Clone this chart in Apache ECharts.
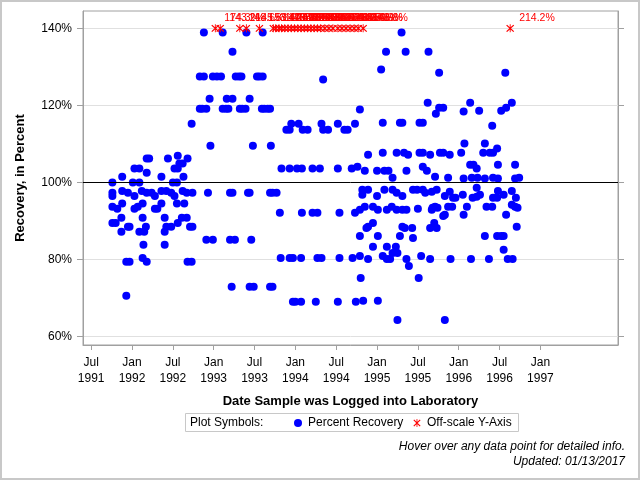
<!DOCTYPE html>
<html>
<head>
<meta charset="utf-8">
<title>Percent Recovery</title>
<script src="https://cdn.jsdelivr.net/npm/echarts@6/dist/echarts.min.js"></script>
<style>
  html, body { margin: 0; padding: 0; background: #fff; }
  #chart { width: 640px; height: 480px; }
</style>
</head>
<body>
<div id="chart"></div>
<script>
// [date as decimal year, recovery %]
const recovery1991_92 = [
  [1991.76, 100.0], [1991.76, 97.3], [1991.76, 96.5], [1991.76, 93.7], [1991.82, 93.2], [1991.76, 89.5], [1991.80, 89.5], [1991.87, 87.2], [1991.88, 101.5], [1991.88, 97.8],
  [1991.88, 94.5], [1991.87, 90.8], [1991.95, 97.3], [1991.95, 88.5], [1991.97, 88.5], [1991.93, 79.4], [1991.97, 79.4], [1991.93, 70.6], [1992.01, 100.0], [1992.03, 103.6],
  [1992.03, 96.5], [1992.03, 93.2], [1992.07, 93.7], [1992.09, 100.0], [1992.09, 103.6], [1992.12, 97.8], [1992.13, 94.5], [1992.13, 90.8], [1992.09, 87.2], [1992.15, 87.2],
  [1992.17, 88.5], [1992.14, 83.8], [1992.13, 80.4], [1992.18, 79.4], [1992.18, 102.5], [1992.18, 106.2], [1992.21, 106.2], [1992.18, 97.3], [1992.24, 97.3], [1992.28, 96.5],
  [1992.28, 93.2], [1992.31, 93.2], [1992.36, 94.5], [1992.36, 101.5], [1992.36, 97.8], [1992.40, 90.8], [1992.40, 87.2], [1992.40, 83.8], [1992.42, 88.5], [1992.42, 97.8],
  [1992.44, 106.2], [1992.48, 97.3], [1992.48, 88.5], [1992.50, 100.0], [1992.55, 100.0], [1992.52, 103.6], [1992.56, 103.6], [1992.56, 106.9], [1992.58, 104.9], [1992.62, 104.9],
  [1992.52, 96.5], [1992.55, 94.5], [1992.56, 89.5], [1992.61, 90.8], [1992.62, 97.8], [1992.63, 101.5], [1992.64, 94.5], [1992.67, 97.3], [1992.67, 90.8], [1992.68, 106.2],
  [1992.68, 79.4], [1992.73, 79.4], [1992.71, 88.5], [1992.74, 88.5], [1992.74, 97.3], [1992.73, 115.2]
];
const recovery1993 = [
  [1992.88, 138.9], [1993.11, 138.9], [1993.40, 138.9], [1993.60, 138.9], [1993.23, 133.9],
  [1992.83, 127.5], [1992.88, 127.5], [1992.99, 127.5], [1993.04, 127.5], [1993.09, 127.5], [1993.27, 127.5],
  [1993.31, 127.5], [1993.34, 127.5], [1993.53, 127.5], [1993.56, 127.5], [1993.60, 127.5],
  [1992.95, 121.7], [1993.16, 121.7], [1993.23, 121.7], [1993.44, 121.7],
  [1992.83, 119.1], [1992.86, 119.1], [1992.91, 119.1], [1993.11, 119.1], [1993.15, 119.1], [1993.18, 119.1], [1993.32, 119.1],
  [1993.35, 119.1], [1993.39, 119.1], [1993.59, 119.1], [1993.62, 119.1], [1993.66, 119.1], [1993.69, 119.1],
  [1992.96, 109.5], [1993.48, 109.5], [1993.70, 109.5],
  [1992.93, 97.3], [1993.20, 97.3], [1993.23, 97.3], [1993.42, 97.3], [1993.44, 97.3], [1993.69, 97.3], [1993.72, 97.3], [1993.77, 97.3],
  [1992.91, 85.1], [1992.99, 85.1], [1993.20, 85.1], [1993.26, 85.1], [1993.46, 85.1],
  [1993.22, 72.9], [1993.44, 72.9], [1993.49, 72.9], [1993.69, 72.9], [1993.72, 72.9]
];
const recovery1994 = [
  [1993.95, 115.2], [1994.04, 115.2], [1994.32, 115.2], [1994.52, 115.2], [1994.73, 115.2],
  [1993.89, 113.7], [1993.93, 113.7], [1994.09, 113.7], [1994.15, 113.7], [1994.34, 113.7], [1994.40, 113.7], [1994.60, 113.7], [1994.64, 113.7],
  [1994.34, 126.7], [1994.79, 118.9],
  [1993.83, 103.6], [1993.93, 103.6], [1994.02, 103.6], [1994.08, 103.6], [1994.21, 103.6], [1994.30, 103.6], [1994.52, 103.6], [1994.69, 103.6],
  [1993.81, 92.1], [1994.08, 92.1], [1994.21, 92.1], [1994.27, 92.1], [1994.54, 92.1], [1994.73, 92.1],
  [1993.82, 80.4], [1993.93, 80.4], [1993.97, 80.4], [1994.07, 80.4], [1994.27, 80.4], [1994.32, 80.4], [1994.54, 80.4], [1994.70, 80.4],
  [1993.97, 69.0], [1994.00, 69.0], [1994.07, 69.0], [1994.25, 69.0], [1994.52, 69.0], [1994.74, 69.0], [1994.83, 69.3], [1995.01, 69.3]
];
const recovery1995_96 = [
  [1994.76, 104.1], [1994.85, 103.0], [1995.00, 103.0], [1995.09, 103.0], [1995.14, 103.0], [1995.19, 101.2], [1995.36, 103.0], [1995.56, 104.1],
  [1995.61, 103.0], [1995.71, 101.5], [1995.87, 101.2], [1996.06, 101.0], [1996.16, 101.2], [1996.23, 101.2], [1996.32, 101.0], [1996.42, 101.2],
  [1996.48, 101.0], [1996.69, 101.0], [1996.74, 101.2],
  [1996.14, 104.6], [1996.18, 104.6], [1996.22, 103.6], [1996.48, 104.6], [1996.69, 104.6], [1996.41, 114.7],
  [1994.89, 107.2], [1995.07, 107.7], [1995.24, 107.7], [1995.33, 107.7], [1995.38, 107.2], [1995.52, 107.7], [1995.56, 107.7], [1995.65, 107.2],
  [1995.77, 107.7], [1995.81, 107.7], [1995.89, 107.2], [1996.03, 107.7], [1996.07, 110.1], [1996.32, 110.1], [1996.30, 107.7], [1996.38, 107.7],
  [1996.42, 107.7], [1996.47, 108.8],
  [1994.82, 98.1], [1994.89, 98.1], [1994.82, 96.8], [1995.00, 96.5], [1995.09, 98.1], [1995.19, 98.1], [1995.24, 97.3], [1995.31, 96.5],
  [1995.44, 98.1], [1995.49, 98.1], [1995.56, 98.1], [1995.59, 97.3], [1995.67, 97.6], [1995.73, 98.1], [1995.83, 96.5], [1995.89, 97.6],
  [1995.93, 96.0], [1995.96, 96.0], [1996.05, 96.8], [1996.17, 96.0], [1996.22, 96.3], [1996.22, 98.6], [1996.26, 96.8], [1996.42, 96.0],
  [1996.47, 96.0], [1996.48, 97.8], [1996.55, 96.8], [1996.65, 97.8], [1996.70, 96.0],
  [1994.79, 92.9], [1994.85, 93.7], [1994.95, 93.7], [1995.01, 92.9], [1995.12, 92.9], [1995.18, 93.7], [1995.24, 92.9], [1995.31, 92.9],
  [1995.36, 92.9], [1995.50, 93.2], [1995.67, 92.9], [1995.71, 93.7], [1995.81, 91.3], [1995.87, 93.7], [1995.68, 93.4], [1995.74, 93.4],
  [1995.92, 93.7], [1996.10, 93.7], [1996.34, 93.7], [1996.41, 93.7], [1996.65, 94.2], [1996.69, 93.7], [1996.72, 93.4], [1995.83, 91.6],
  [1996.06, 91.6], [1996.58, 91.6],
  [1994.89, 88.5], [1994.95, 89.5], [1994.87, 88.2], [1995.31, 88.5], [1995.34, 88.2], [1995.43, 88.2], [1995.65, 88.2], [1995.70, 89.5],
  [1995.73, 88.2], [1996.71, 88.5],
  [1994.79, 86.1], [1995.01, 86.1], [1995.28, 86.1], [1995.44, 85.6], [1996.32, 86.1], [1996.47, 86.1], [1996.52, 86.1], [1996.55, 86.1],
  [1996.55, 82.5], [1994.95, 83.3], [1995.12, 83.3], [1995.23, 83.3],
  [1994.79, 80.9], [1994.89, 80.1], [1995.07, 80.9], [1995.12, 80.1], [1995.16, 80.1], [1995.19, 81.7], [1995.25, 81.7], [1995.36, 80.1],
  [1995.39, 78.3], [1995.54, 80.9], [1995.65, 80.1], [1995.90, 80.1], [1996.15, 80.1], [1996.37, 80.1], [1996.60, 80.1], [1996.66, 80.1],
  [1994.80, 75.2], [1995.51, 75.2], [1995.25, 64.3], [1995.83, 64.3],
  [1995.05, 129.3], [1995.11, 133.9], [1995.30, 138.9], [1995.35, 133.9], [1995.63, 133.9], [1995.76, 128.5], [1996.57, 128.5],
  [1995.07, 115.5], [1995.28, 115.5], [1995.31, 115.5], [1995.52, 115.5], [1995.56, 115.5],
  [1995.62, 120.7], [1995.76, 119.4], [1995.81, 119.4], [1995.72, 117.8], [1996.06, 118.4], [1996.14, 120.7], [1996.25, 118.6],
  [1996.52, 118.6], [1996.58, 119.4], [1996.65, 120.7]
];
// values above the axis range: drawn at the cap, labelled with the real value
const offScale = [
  [1993.02, 174.3], [1993.08, 143.2], [1993.32, 148.6], [1993.40, 145.8], [1993.56, 153.4], [1993.73, 147.1], [1993.76, 162.5], [1993.80, 149.9],
  [1993.83, 144.6], [1993.87, 158.3], [1993.91, 151.2], [1993.95, 146.7], [1993.99, 170.4], [1994.03, 142.8], [1994.07, 155.6], [1994.11, 149.3],
  [1994.15, 161.9], [1994.19, 147.5], [1994.23, 143.9], [1994.27, 152.7], [1994.31, 166.1], [1994.36, 148.2], [1994.41, 144.4], [1994.46, 157.8],
  [1994.52, 150.5], [1994.57, 146.3], [1994.62, 163.7], [1994.67, 149.6], [1994.72, 145.1], [1994.77, 154.9], [1994.83, 148.8], [1996.63, 214.2]
];
const yCap = 140;
const xTicks = [1991.5, 1992, 1992.5, 1993, 1993.5, 1994, 1994.5, 1995, 1995.5, 1996, 1996.5, 1997];
const yTicks = [60, 80, 100, 120, 140];

const font = 'Liberation Sans, Arial, sans-serif';
const gray = '#a0a0a0';
const asterisk = 'path://M9,0H11V20H9Z M1,3L3,1L19,17L17,19Z M17,1L19,3L3,19L1,17Z';

const recovery = recovery1991_92.concat(recovery1993, recovery1994, recovery1995_96);

function dateLabel(v) {
  const yr = Math.floor(v + 1e-6);
  return (v - yr > 0.25 ? 'Jul' : 'Jan') + '\n' + yr;
}

const chart = echarts.init(document.getElementById('chart'));
chart.setOption({
  animation: false,
  backgroundColor: '#fff',
  textStyle: { fontFamily: font },
  grid: {
    left: 83, right: 22, top: 11, bottom: 135,
    show: true, borderColor: gray, borderWidth: 1,
    containLabel: false, outerBoundsMode: 'none'
  },
  xAxis: {
    type: 'value', min: 1991.4, max: 1997.95,
    axisLine: { show: true, onZero: false, lineStyle: { color: gray } },
    axisTick: { show: true, length: 5, customValues: xTicks, lineStyle: { color: gray } },
    axisLabel: { customValues: xTicks, formatter: dateLabel, color: '#000', fontSize: 12, lineHeight: 16, margin: 10 },
    splitLine: { show: false },
    name: 'Date Sample was Logged into Laboratory',
    nameLocation: 'middle', nameGap: 50, nameMoveOverlap: false,
    nameTextStyle: { fontWeight: 'bold', fontSize: 13, color: '#000' }
  },
  yAxis: [
    {
      type: 'value', min: 57.8, max: 144.5, position: 'left',
      axisLine: { show: true, lineStyle: { color: gray } },
      axisTick: { show: true, length: 6, customValues: yTicks, lineStyle: { color: gray } },
      axisLabel: { customValues: yTicks, formatter: '{value}%', color: '#000', fontSize: 12, margin: 11 },
      splitLine: { show: true, lineStyle: { color: '#e0e0e0' } },
      name: 'Recovery, in Percent',
      nameLocation: 'middle', nameGap: 56, nameMoveOverlap: false,
      nameTextStyle: { fontWeight: 'bold', fontSize: 13, color: '#000' }
    },
    {
      type: 'value', min: 57.8, max: 144.5, position: 'right',
      axisLine: { show: true, lineStyle: { color: gray } },
      axisTick: { show: true, length: 6, customValues: yTicks, lineStyle: { color: gray } },
      axisLabel: { show: false },
      splitLine: { show: false }
    }
  ],
  legend: {
    left: 289, top: 412,
    itemWidth: 10, itemHeight: 8, itemGap: 10,
    selectedMode: false,
    textStyle: { fontSize: 12, color: '#000' },
    data: [
      { name: 'Percent Recovery', icon: 'circle' },
      { name: 'Off-scale Y-Axis', icon: asterisk }
    ]
  },
  graphic: [
    { type: 'rect', silent: true, shape: { x: 1, y: 1, width: 638, height: 478 }, style: { fill: 'none', stroke: '#c8c8c8', lineWidth: 2 } },
    { type: 'rect', silent: true, shape: { x: 185.5, y: 413.5, width: 333, height: 18 }, style: { fill: 'none', stroke: '#c8c8c8', lineWidth: 1 } },
    { type: 'text', silent: true, x: 190, y: 423, style: { text: 'Plot Symbols:', font: '12px ' + font, fill: '#000', align: 'left', verticalAlign: 'middle' } },
    { type: 'text', silent: true, x: 625, y: 447, style: { text: 'Hover over any data point for detailed info.', font: 'italic 12px ' + font, fill: '#000', align: 'right', verticalAlign: 'middle' } },
    { type: 'text', silent: true, x: 625, y: 462, style: { text: 'Updated: 01/13/2017', font: 'italic 12px ' + font, fill: '#000', align: 'right', verticalAlign: 'middle' } }
  ],
  series: [
    {
      name: 'Percent Recovery',
      type: 'scatter',
      symbol: 'circle',
      symbolSize: 8,
      itemStyle: { color: '#0000ff', opacity: 1 },
      data: recovery,
      z: 2,
      markLine: {
        silent: true,
        symbol: 'none',
        label: { show: false },
        lineStyle: { color: '#000', width: 1, type: 'solid' },
        data: [{ yAxis: 100 }]
      }
    },
    {
      name: 'Off-scale Y-Axis',
      type: 'scatter',
      symbol: asterisk,
      symbolSize: 8,
      itemStyle: { color: '#ff0000', opacity: 1 },
      data: offScale.map(d => [d[0], yCap, d[1]]),
      z: 3,
      label: {
        show: true,
        position: 'right',
        distance: 5,
        offset: [0, -10],
        color: '#ff0000',
        fontSize: 10.5,
        formatter: p => p.value[2].toFixed(1) + '%'
      }
    }
  ]
});
</script>
</body>
</html>
